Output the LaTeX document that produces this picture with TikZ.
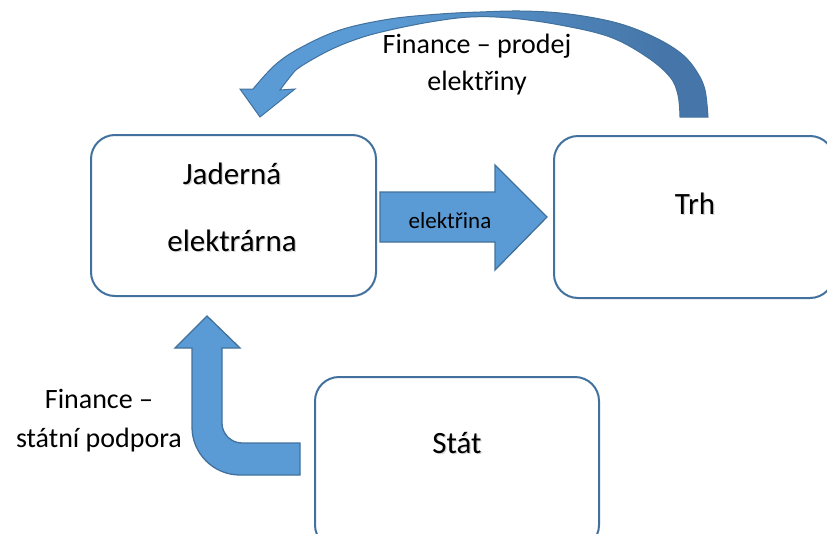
\documentclass[tikz,border=0pt]{standalone}
\usepackage{fontspec}
\setmainfont{Carlito}
\definecolor{boxline}{HTML}{41719C}
\definecolor{arrowfill}{HTML}{5B9BD5}
\definecolor{arrowdark}{HTML}{4676A9}
\pgfdeclarehorizontalshading{arcshade}{100bp}{color(0bp)=(arrowfill); color(40bp)=(arrowfill); color(70bp)=(arrowdark); color(100bp)=(arrowdark)}
\tikzset{
  box/.style={draw=boxline, line width=2pt, fill=white, rounded corners=24pt,
    inner sep=0pt, anchor=north west},
  blockarrow/.style={fill=arrowfill, draw=boxline, line width=1.3pt, line join=miter},
  big/.style={font=\fontsize{31}{36}\selectfont, anchor=base, inner sep=0pt},
  bigshadow/.style={big, text=black!16},
  mid/.style={font=\fontsize{28}{34}\selectfont, anchor=base, inner sep=0pt},
  small/.style={font=\fontsize{23}{26}\selectfont, anchor=base, inner sep=0pt}
}
\begin{document}
\begin{tikzpicture}[x=1pt,y=-1pt]
\useasboundingbox (0,0) rectangle (827,533);
\clip (0,0) rectangle (827,533);

% boxes
\node[box, minimum width=285pt, minimum height=161pt] (plant) at (90,134) {};
\node[box, minimum width=280pt, minimum height=162pt] (market) at (553,135) {};
\node[box, minimum width=284pt, minimum height=172pt] (state) at (314,376) {};

% straight block arrow: electricity to the market
\draw[blockarrow] (380,192) -- (495,192) -- (495,165) -- (547,217)
  -- (495,270) -- (495,242) -- (380,242) -- cycle;

% bent block arrow: state support
\draw[blockarrow] (300,475) -- (240,475)
  .. controls (213.5,475) and (192,453.5) .. (192,427)
  -- (192,348) -- (175,348) -- (207,316) -- (240,348) -- (222,348)
  -- (222,423) .. controls (222,434) and (231,443) .. (242,443)
  -- (300,443) -- cycle;

% curved block arrow: money from selling electricity
\shade[shading=arcshade, draw=boxline, line width=1pt, line join=miter]
  (680,117) -- (708,117)
  -- plot[smooth, tension=0.6] coordinates {(708,117) (705,90) (697,72) (683,55)
      (660,40) (630,27) (600,19) (560,13) (520,11) (480,12) (440,14) (390,19)
      (340,30) (300,48) (275,65) (253,89)}
  -- (240,89) -- (260,117) -- (295,89) -- (280,90)
  -- plot[smooth, tension=0.6] coordinates {(280,90) (290,77) (300,67) (330,50)
      (360,38) (390,30) (430,22) (470,17) (510,18) (560,25) (610,37) (647,57)
      (670,77) (678,95) (680,117)}
  -- cycle;

% box labels with a soft shadow
\node[bigshadow] (plants1) at (233.2,185.2) {Jaderná};
\node[bigshadow] (plants2) at (233.2,252.2) {elektrárna};
\node[bigshadow] (markets) at (696.2,215.2) {Trh};
\node[bigshadow] (states) at (458.2,454.2) {Stát};
\node[big] (plantt1) at (232,184) {Jaderná};
\node[big] (plantt2) at (232,251) {elektrárna};
\node[big] (markett) at (695,214) {Trh};
\node[big] (statet) at (457,453) {Stát};

% arrow labels
\node[small] (flow) at (450,228) {elektřina};
\node[mid] (sale1) at (477,53) {Finance – prodej};
\node[mid] (sale2) at (477,90) {elektřiny};
\node[mid] (aid1) at (99,408) {Finance –};
\node[mid] (aid2) at (99,447) {státní podpora};
\end{tikzpicture}
\end{document}
